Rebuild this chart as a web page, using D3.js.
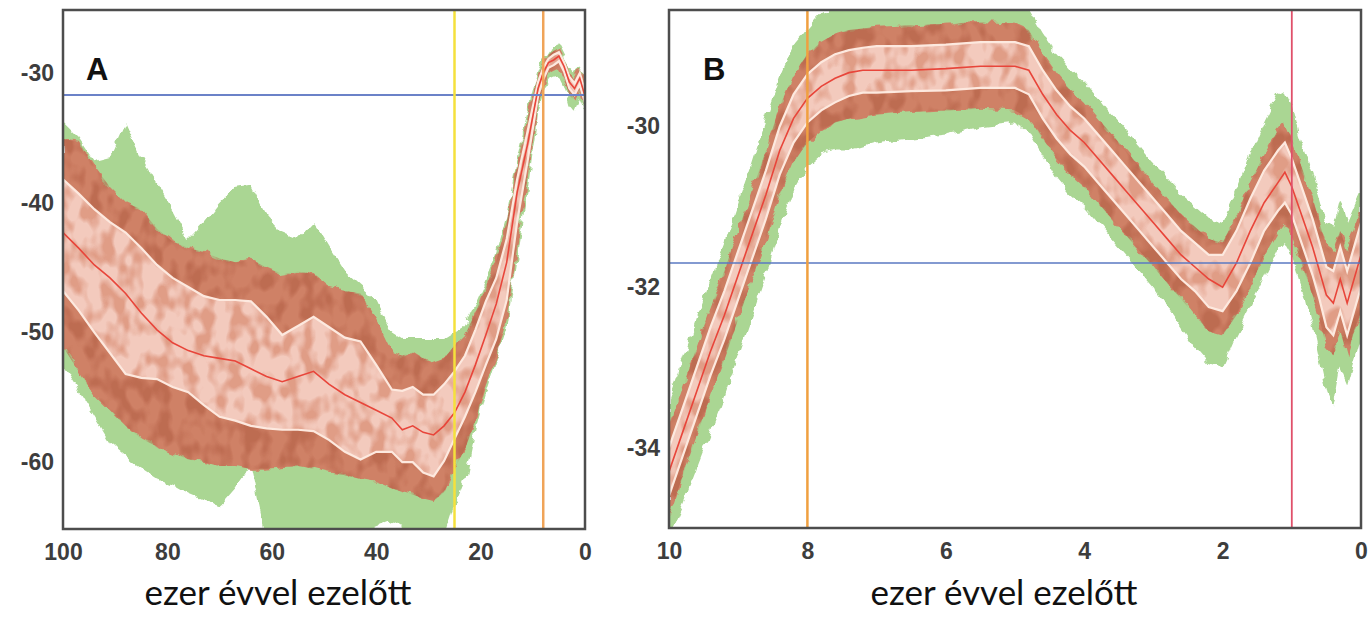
<!DOCTYPE html>
<html>
<head>
<meta charset="utf-8">
<script src="https://cdn.jsdelivr.net/npm/d3@7"></script>
<style>
  body { margin: 0; background: #fff; }
  svg { display: block; }
</style>
</head>
<body>
<svg id="chart" width="1370" height="627"></svg>
<script>
// ---- panel A: 100 ky -> 0 (ages in thousand years) ----
const agesA = [100, 97, 94, 91, 88, 85, 82, 79, 76, 73, 70, 67, 64, 61, 58, 55, 52, 49, 46, 43, 40, 37, 35, 33, 31, 29, 27, 25, 23, 21, 19, 17, 15, 13, 11, 9, 8, 7, 6, 5, 4, 3, 2, 1, 0];
const medianA = [-42.3, -43.5, -44.8, -45.8, -47, -48.5, -49.8, -50.8, -51.4, -51.8, -52, -52.2, -52.8, -53.4, -53.8, -53.4, -53, -54, -54.8, -55.4, -56, -56.6, -57.5, -57.2, -57.7, -57.9, -57.2, -56.2, -54.6, -52.5, -50.2, -47.8, -44.6, -39.2, -35.5, -31.2, -30, -29.2, -29, -28.7, -29.5, -30.7, -31.2, -30.4, -31.8];
const upperA = [-38.2, -39.3, -40.5, -41.5, -42.3, -43.5, -44.8, -45.8, -46.5, -47.2, -47.5, -47.5, -47.6, -48.8, -50.2, -49.5, -48.8, -49.6, -50.4, -50.7, -52.5, -54.4, -54.5, -54.2, -54.8, -54.8, -54, -53, -51.8, -49.8, -47.6, -45.8, -42.8, -38.2, -34.5, -30.7, -29.6, -28.9, -28.6, -28.4, -29.2, -30.3, -30.8, -30, -31.4];
const lowerA = [-46.8, -48.3, -50, -51.6, -53.2, -53.5, -53.6, -54.2, -54.6, -55.6, -56.5, -56.8, -57.2, -57.4, -57.5, -57.5, -57.6, -58.3, -59.2, -59.8, -59.2, -59.2, -60, -60, -60.8, -61.1, -59.9, -58.2, -56.5, -54.6, -52.5, -50.5, -47.5, -41.5, -36.8, -31.8, -30.5, -29.6, -29.4, -29.1, -29.9, -31.2, -31.7, -30.9, -32.3];
const brownHiA = [-35.1, -35.3, -37.2, -38.8, -40, -40.5, -42, -43, -43.5, -43.8, -44.3, -44.6, -44.4, -45, -45.5, -45.3, -45.5, -46.5, -46.8, -47, -49, -51.5, -51.8, -51.5, -52, -52.3, -52, -51, -50.2, -48.5, -46.5, -44.5, -41.5, -37, -33.5, -30.2, -29.3, -28.6, -28.3, -28.1, -28.9, -30, -30.4, -29.6, -31];
const brownLoA = [-51.1, -53, -54.8, -56, -57.2, -58.2, -58.8, -59.3, -59.8, -60, -60.3, -60.3, -60.5, -60.5, -60.4, -60.3, -60.5, -60.8, -61, -61.3, -61.5, -62, -62.3, -62.5, -62.8, -63, -62.3, -60.5, -59, -56.8, -54, -51.8, -48.8, -43, -38, -32.5, -31, -30, -29.8, -29.6, -30.4, -31.7, -32.2, -31.4, -32.7];
const greenHiA = [-33.8, -35, -36.8, -36.5, -33.8, -36.5, -38.5, -40.5, -42.8, -41.5, -40, -38.8, -38.6, -41, -42.3, -42.8, -41.5, -43.5, -45.4, -46.5, -47.5, -50, -50.5, -50.5, -50.5, -50.5, -50.5, -50, -49.5, -47.8, -46, -44, -41, -36.5, -33, -29.8, -28.9, -28.3, -28, -27.8, -28.6, -29.7, -30.1, -29.4, -30.6];
const greenLoA = [-52.6, -54.5, -56.5, -58.5, -59.5, -60.5, -61.3, -61.8, -62.5, -63, -63.4, -62, -60.3, -66, -66, -66, -66, -66, -66, -66, -65, -64.5, -65, -66, -66, -66, -66, -63.5, -61.5, -57.5, -54.5, -52, -49.5, -44, -39, -33, -31.5, -30.5, -30.3, -30.2, -31, -32.5, -33, -32, -33];

// ---- panel B: 10 ky -> 0 ----
const agesB = [10, 9.8, 9.6, 9.4, 9.2, 9, 8.8, 8.6, 8.4, 8.2, 8, 7.8, 7.6, 7.4, 7.2, 7, 6.5, 6, 5.5, 5, 4.8, 4.6, 4.4, 4.2, 4, 3.8, 3.6, 3.4, 3.2, 3, 2.8, 2.6, 2.4, 2.2, 2, 1.8, 1.6, 1.4, 1.2, 1.1, 1, 0.9, 0.8, 0.7, 0.6, 0.5, 0.4, 0.3, 0.2, 0.1, 0];
const medianB = [-34.3, -33.8, -33.3, -32.8, -32.35, -31.85, -31.35, -30.85, -30.3, -29.9, -29.65, -29.5, -29.4, -29.33, -29.3, -29.3, -29.3, -29.28, -29.25, -29.25, -29.3, -29.6, -29.85, -30.05, -30.2, -30.4, -30.6, -30.8, -31, -31.2, -31.4, -31.6, -31.75, -31.9, -32, -31.7, -31.3, -30.95, -30.7, -30.57, -30.75, -31, -31.25, -31.5, -31.8, -32.1, -32.2, -31.9, -32.2, -31.9, -31.6];
const upperB = [-34, -33.5, -33, -32.5, -32.05, -31.55, -31.05, -30.55, -30, -29.6, -29.35, -29.2, -29.1, -29.05, -29.02, -29, -29, -28.98, -28.95, -28.95, -29, -29.3, -29.55, -29.75, -29.9, -30.1, -30.3, -30.5, -30.7, -30.9, -31.1, -31.3, -31.45, -31.6, -31.6, -31.3, -30.9, -30.55, -30.3, -30.2, -30.4, -30.65, -30.9, -31.15, -31.45, -31.75, -31.8, -31.5, -31.8, -31.5, -31.2];
const lowerB = [-34.6, -34.1, -33.6, -33.1, -32.65, -32.15, -31.65, -31.15, -30.6, -30.2, -29.95, -29.8, -29.7, -29.62, -29.58, -29.58, -29.56, -29.55, -29.52, -29.52, -29.6, -29.9, -30.15, -30.35, -30.5, -30.7, -30.9, -31.1, -31.3, -31.5, -31.7, -31.9, -32.05, -32.25, -32.3, -32.05, -31.7, -31.3, -31.05, -30.95, -31.1, -31.35, -31.6, -31.85, -32.15, -32.5, -32.6, -32.3, -32.6, -32.3, -32];
const brownHiB = [-33.75, -33.25, -32.75, -32.25, -31.8, -31.3, -30.8, -30.3, -29.75, -29.35, -29.1, -28.95, -28.85, -28.8, -28.78, -28.76, -28.74, -28.72, -28.7, -28.72, -28.8, -29.1, -29.35, -29.55, -29.7, -29.9, -30.1, -30.3, -30.5, -30.7, -30.9, -31.1, -31.25, -31.4, -31.45, -31.1, -30.7, -30.35, -30.05, -29.95, -30.15, -30.4, -30.65, -30.9, -31.2, -31.5, -31.55, -31.3, -31.55, -31.3, -31];
const brownLoB = [-34.85, -34.35, -33.85, -33.35, -32.9, -32.4, -31.9, -31.4, -30.85, -30.45, -30.2, -30.05, -29.95, -29.9, -29.88, -29.85, -29.82, -29.8, -29.78, -29.8, -29.9, -30.15, -30.4, -30.6, -30.75, -30.95, -31.15, -31.35, -31.55, -31.75, -31.95, -32.15, -32.35, -32.55, -32.6, -32.35, -32, -31.6, -31.3, -31.2, -31.35, -31.6, -31.85, -32.1, -32.4, -32.75, -32.85, -32.55, -32.85, -32.55, -32.3];
const greenHiB = [-33.4, -32.9, -32.4, -31.9, -31.45, -30.95, -30.45, -29.9, -29.4, -29, -28.8, -28.6, -28.5, -28.5, -28.5, -28.5, -28.5, -28.5, -28.5, -28.5, -28.55, -28.85, -29.1, -29.3, -29.45, -29.65, -29.85, -30.05, -30.25, -30.45, -30.65, -30.85, -31, -31.15, -31.2, -30.8, -30.35, -29.95, -29.6, -29.55, -29.75, -30.1, -30.35, -30.6, -30.9, -31.2, -31.25, -30.9, -31.2, -31, -30.8];
const greenLoB = [-35.1, -34.7, -34.25, -33.8, -33.35, -32.85, -32.35, -31.85, -31.3, -30.8, -30.5, -30.35, -30.3, -30.3, -30.25, -30.2, -30.15, -30.1, -30, -29.95, -30.05, -30.35, -30.65, -30.85, -31, -31.2, -31.4, -31.6, -31.8, -32, -32.25, -32.5, -32.75, -32.95, -33, -32.6, -32.25, -31.9, -31.55, -31.45, -31.6, -31.9, -32.15, -32.5, -32.9, -33.3, -33.5, -33, -33.2, -32.9, -32.6];

// axis ticks and marker lines
const xTicksA = [100, 80, 60, 40, 20, 0];
const yTicksA = [-30, -40, -50, -60];
const xTicksB = [10, 8, 6, 4, 2, 0];
const yTicksB = [-30, -32, -34];
const refLevel = -31.7;
const markersA = [25, 8];
const markersB = [8, 1];
const xCaption = 'ezer évvel ezelőtt';

const svg = d3.select('#chart');
const defs = svg.append('defs');

// ragged edge for the ensemble clouds
const rough = defs.append('filter').attr('id', 'rough')
  .attr('x', '-5%').attr('y', '-5%').attr('width', '110%').attr('height', '110%');
rough.append('feTurbulence').attr('type', 'fractalNoise')
  .attr('baseFrequency', '0.09').attr('numOctaves', 2).attr('seed', 3).attr('result', 'n');
rough.append('feDisplacementMap').attr('in', 'SourceGraphic').attr('in2', 'n')
  .attr('scale', 9).attr('xChannelSelector', 'R').attr('yChannelSelector', 'G');

// blotchy texture inside the bands
const mottle = defs.append('filter').attr('id', 'mottle')
  .attr('x', '0').attr('y', '0').attr('width', '100%').attr('height', '100%');
mottle.append('feTurbulence').attr('type', 'fractalNoise')
  .attr('baseFrequency', '0.07 0.045').attr('numOctaves', 2).attr('seed', 11).attr('result', 'n');
mottle.append('feColorMatrix').attr('in', 'n').attr('type', 'matrix')
  .attr('values', '0 0 0 0 0  0 0 0 0 0  0 0 0 0 0  4 0 0 0 -1.7').attr('result', 'a');
mottle.append('feComposite').attr('in', 'SourceGraphic').attr('in2', 'a').attr('operator', 'in');

function drawPanel(p) {
  const x = d3.scaleLinear().domain(p.xDomain).range([p.left, p.right]);
  const y = d3.scaleLinear().domain(p.yDomain).range([p.bottom, p.top]);

  defs.append('clipPath').attr('id', 'clip' + p.name)
    .append('rect')
    .attr('x', p.left).attr('y', p.top)
    .attr('width', p.right - p.left).attr('height', p.bottom - p.top);

  const g = svg.append('g');
  const plot = g.append('g').attr('clip-path', `url(#clip${p.name})`);

  const rows = p.ages.map((a, i) => ({
    a, med: p.med[i], up: p.up[i], lo: p.lo[i],
    bh: p.bh[i], bl: p.bl[i], gh: p.gh[i], gl: p.gl[i]
  }));

  const band = (hi, lo) => d3.area()
    .x(d => x(d.a)).y0(d => y(d[lo])).y1(d => y(d[hi]));

  plot.append('path').datum(rows)
    .attr('d', band('gh', 'gl'))
    .attr('fill', '#aad693').attr('filter', 'url(#rough)');
  plot.append('path').datum(rows)
    .attr('d', band('bh', 'bl'))
    .attr('fill', '#cf8166').attr('filter', 'url(#rough)');
  // darker blotches over the outer band
  plot.append('path').datum(rows)
    .attr('d', band('bh', 'bl'))
    .attr('fill', '#b8654b').attr('opacity', 0.75).attr('filter', 'url(#mottle)');
  plot.append('path').datum(rows)
    .attr('d', band('up', 'lo'))
    .attr('fill', '#f3cabd');
  // brownish blotches inside the inner band
  plot.append('path').datum(rows)
    .attr('d', band('up', 'lo'))
    .attr('fill', '#d88a70').attr('opacity', 0.7).attr('filter', 'url(#mottle)');

  const line = key => d3.line().x(d => x(d.a)).y(d => y(d[key]));
  ['up', 'lo'].forEach(k => {
    plot.append('path').datum(rows)
      .attr('d', line(k))
      .attr('fill', 'none').attr('stroke', '#fde9df').attr('stroke-width', 2.2);
  });
  plot.append('path').datum(rows)
    .attr('d', line('med'))
    .attr('fill', 'none').attr('stroke', '#e8453a').attr('stroke-width', 1.6);

  // present-day reference level
  plot.append('line')
    .attr('x1', p.left).attr('x2', p.right)
    .attr('y1', y(refLevel)).attr('y2', y(refLevel))
    .attr('stroke', p.refColor).attr('stroke-width', p.refWidth);

  p.markers.forEach((m, i) => {
    plot.append('line')
      .attr('x1', x(m)).attr('x2', x(m))
      .attr('y1', p.top).attr('y2', p.bottom)
      .attr('stroke', p.markerColors[i]).attr('stroke-width', p.markerWidths[i]);
  });

  // frame
  g.append('rect')
    .attr('x', p.left).attr('y', p.top)
    .attr('width', p.right - p.left).attr('height', p.bottom - p.top)
    .attr('fill', 'none').attr('stroke', '#4d4d4d').attr('stroke-width', 2.5);

  const yAxis = g.append('g')
    .attr('transform', `translate(${p.left},0)`)
    .call(d3.axisLeft(y).tickValues(p.yTicks).tickSize(0).tickPadding(9).tickFormat(d => String(d)));
  const xAxis = g.append('g')
    .attr('transform', `translate(0,${p.bottom})`)
    .call(d3.axisBottom(x).tickValues(p.xTicks).tickSize(0).tickPadding(10).tickFormat(d => String(d)));
  [yAxis, xAxis].forEach(ax => {
    ax.select('.domain').remove();
    ax.selectAll('text')
      .attr('fill', '#3d3d3d')
      .style('font-family', '"Liberation Sans Narrow", "Liberation Sans", Arial, sans-serif')
      .style('font-weight', 'bold')
      .style('font-size', '23px');
  });
  xAxis.selectAll('text').attr('dy', '0.9em');

  g.append('text')
    .attr('x', p.labelX).attr('y', p.labelY)
    .attr('font-family', '"Liberation Sans", Arial, sans-serif')
    .attr('font-weight', 'bold').attr('font-size', 31)
    .attr('fill', '#111')
    .text(p.name);

  g.append('text')
    .attr('x', p.captionX).attr('y', 605)
    .attr('text-anchor', 'middle')
    .attr('font-family', 'Lato, "Open Sans", sans-serif')
    .attr('font-size', 35)
    .attr('fill', '#111')
    .text(xCaption);
}

drawPanel({
  name: 'A', left: 63, right: 585, top: 10, bottom: 529,
  xDomain: [100, 0], yDomain: [-65.15, -25.15],
  xTicks: xTicksA, yTicks: yTicksA,
  ages: agesA, med: medianA, up: upperA, lo: lowerA,
  bh: brownHiA, bl: brownLoA, gh: greenHiA, gl: greenLoA,
  markers: markersA, markerColors: ['#f5e03c', '#f0a458'], markerWidths: [2.5, 2.5],
  refColor: '#6b82c8', refWidth: 2.2,
  labelX: 86, labelY: 80, captionX: 278
});

drawPanel({
  name: 'B', left: 669, right: 1361, top: 10, bottom: 528,
  xDomain: [10, 0], yDomain: [-35, -28.55],
  xTicks: xTicksB, yTicks: yTicksB,
  ages: agesB, med: medianB, up: upperB, lo: lowerB,
  bh: brownHiB, bl: brownLoB, gh: greenHiB, gl: greenLoB,
  markers: markersB, markerColors: ['#f0a040', '#e0506a'], markerWidths: [2.5, 1.8],
  refColor: '#5a78c2', refWidth: 1.4,
  labelX: 703, labelY: 80, captionX: 1004
});
</script>
</body>
</html>
